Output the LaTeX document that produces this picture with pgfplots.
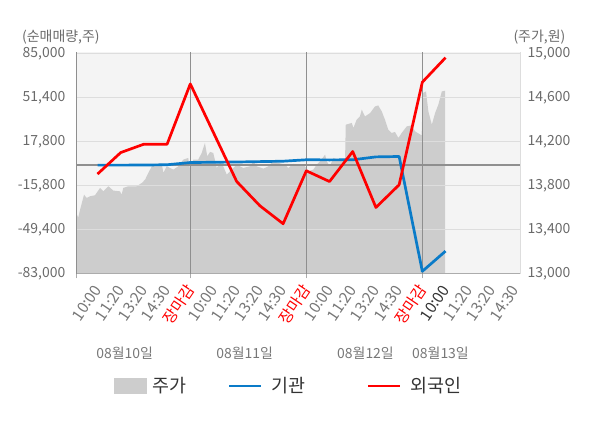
\documentclass[border=0pt]{standalone}
\usepackage{pgfplots}
\pgfplotsset{compat=1.18}
\usepackage{fontspec}
\setmainfont{Noto Sans CJK KR}
\definecolor{bgc}{HTML}{F4F4F4}
\definecolor{areac}{HTML}{CDCDCD}
\definecolor{gridc}{HTML}{DDDDDD}
\definecolor{darkgrid}{HTML}{8F8F8F}
\definecolor{labgray}{HTML}{6A6A6A}
\definecolor{xlab}{HTML}{777777}
\definecolor{xdark}{HTML}{333333}
\definecolor{legtext}{HTML}{333333}
\definecolor{bluec}{HTML}{0A7BC8}
\definecolor{redc}{HTML}{FF0000}
\newcommand{\g}[1]{\textcolor{xlab}{#1}}
\newcommand{\rr}[1]{\textcolor{redc}{#1}}
\newcommand{\dd}[1]{\textcolor{xdark}{#1}}
\newcommand{\fs}[1]{\fontsize{#1}{#1}\selectfont}

\pgfplotstableread{
s p
-0.927 13553
-0.83 13511
-0.75 13583
-0.58 13719
-0.47 13689
-0.32 13704
-0.11 13713
0.11 13780
0.25 13749
0.47 13795
0.68 13756
0.97 13749
1.04 13719
1.11 13780
1.33 13795
1.69 13795
1.91 13825
2.05 13855
2.19 13916
2.34 13976
2.48 13998
2.77 13998
2.84 13916
2.98 13976
3.27 13946
3.48 13976
3.70 14037
3.91 14052
3.99 13946
4.13 14037
4.34 14037
4.49 14097
4.63 14188
4.73 14067
4.85 14107
4.99 14097
5.14 13961
5.28 14007
5.42 13976
5.57 13901
5.78 13946
6.00 13991
6.28 13961
6.57 13976
6.72 14021
6.86 13976
7.15 13955
7.36 13976
7.58 14021
7.79 14007
8.08 13991
8.22 13961
8.44 13998
8.73 13991
8.94 13976
9.09 13931
9.30 13946
9.45 13991
9.59 14021
9.81 14082
9.88 14021
10.02 13976
10.16 14052
10.38 14037
10.67 14037
10.70 14354
10.96 14370
11.03 14324
11.17 14400
11.31 14429
11.39 14490
11.53 14429
11.75 14460
11.96 14520
12.10 14529
12.25 14475
12.39 14400
12.53 14309
12.68 14279
12.82 14288
12.97 14234
13.11 14279
13.33 14339
13.54 14348
13.69 14293
13.97 14257
14.02 14642
14.16 14656
14.26 14475
14.41 14354
14.55 14460
14.69 14536
14.84 14656
14.98 14663
}\pricetable

\pgfplotstableread{
s v
0 -100
1 -100
2 0
3 200
4 1900
6 2300
7 2600
8 2900
9 4000
10 3900
11 4000
12 6200
13 6500
14 -81100
15 -65700
}\insttable

\pgfplotstableread{
s v
0 -6900
1 9500
2 15900
3 15900
4 61900
6 -12600
7 -31100
8 -44800
9 -4400
10 -12600
11 10300
12 -32400
13 -15100
14 63200
15 81900
}\foreigntable

\begin{document}
\begin{tikzpicture}
\path[use as bounding box] (0,0) rectangle (600bp,-428bp);

% price axis (right)
\begin{axis}[
  at={(76bp,-273.8bp)}, anchor=south west,
  scale only axis, width=444bp, height=222.1bp,
  xmin=-0.927, xmax=18.21, ymin=13000, ymax=15017,
  axis x line=none, axis y line*=right,
  y axis line style={draw=gridc, line width=1bp, -},
  axis background/.style={fill=bgc},
  ytick={13000,13400,13800,14200,14600,15000},
  scaled y ticks=false,
  major tick length=0pt,
  yticklabel style={font=\fs{14}, text=labgray, inner sep=0pt},
  yticklabel shift=7.5bp,
  /pgf/number format/1000 sep={,},
  /pgf/number format/assume math mode=true,
]
\addplot[fill=areac, draw=none] table[x=s, y=p] {\pricetable} \closedcycle;
\end{axis}

% volume axis (left)
\begin{axis}[
  at={(76bp,-273.8bp)}, anchor=south west,
  scale only axis, width=444bp, height=222.1bp,
  xmin=-0.927, xmax=18.21, ymin=-83000, ymax=86450,
  axis x line*=bottom, axis y line*=left,
  x axis line style={draw=gray!65, line width=1.2bp, -},
  y axis line style={draw=gray!75, line width=1bp, -},
  ytick={-83000,-49400,-15800,17800,51400,85000},
  scaled y ticks=false,
  ymajorgrids, major grid style={draw=gridc, line width=1bp},
  major tick length=0pt,
  yticklabel style={font=\fs{14}, text=labgray, inner sep=0pt},
  yticklabel shift=10.5bp,
  extra y ticks={0}, extra y tick labels={},
  extra y tick style={grid=major, major grid style={draw=darkgrid, line width=1.2bp}},
  xtick={0,...,18},
  xticklabels={\g{10:00},\g{11:20},\g{13:20},\g{14:30},\rr{장마감},
    \g{10:00},\g{11:20},\g{13:20},\g{14:30},\rr{장마감},
    \g{10:00},\g{11:20},\g{13:20},\g{14:30},\rr{장마감},
    \dd{10:00},\g{11:20},\g{13:20},\g{14:30}},
  xticklabel style={font=\fs{15.5}, inner sep=0pt, rotate=56, anchor=east},
  xticklabel shift=13bp,
  extra x ticks={-0.927,4,9,14}, extra x tick labels={},
  extra x tick style={grid=major, major grid style={draw=darkgrid, line width=1bp},
     major tick length=4.5bp, tick align=outside, tick style={draw=gray!65, line width=1bp}},
  /pgf/number format/1000 sep={,},
  /pgf/number format/assume math mode=true,
  legend columns=3,
  legend image code/.code={\draw[#1] (0bp,0bp) -- (32bp,0bp);},
  legend style={at={(0.0856,-0.5052)}, anchor=west, draw=none, fill=none,
    inner sep=0pt, font=\fs{18.5}, text=legtext, nodes={inner sep=0pt},
    /tikz/column 1/.append style={column sep=6.3bp},
    /tikz/column 2/.append style={column sep=41bp},
    /tikz/column 3/.append style={column sep=9.3bp},
    /tikz/column 4/.append style={column sep=61bp},
    /tikz/column 5/.append style={column sep=9.3bp}},
]
\addlegendimage{legend image code/.code={\fill[areac] (0bp,-7.5bp) rectangle (32bp,7.5bp);}}
\addlegendentry{주가}
\addplot[bluec, line width=2.7bp, line join=round] table[x=s, y=v] {\insttable};
\addlegendentry{기관}
\addplot[redc, line width=2.7bp, line join=round] table[x=s, y=v] {\foreigntable};
\addlegendentry{외국인}
\end{axis}

\node[anchor=west, inner sep=0pt, font=\fs{14}, text=labgray] at (22bp,-36.8bp) {(순매매량,주)};
\node[anchor=east, inner sep=0pt, font=\fs{14}, text=labgray] at (565.5bp,-37.3bp) {(주가,원)};
\node[inner sep=0pt, font=\fs{14}, text=xlab] at (124.7bp,-353.3bp) {08월10일};
\node[inner sep=0pt, font=\fs{14}, text=xlab] at (244.7bp,-353.3bp) {08월11일};
\node[inner sep=0pt, font=\fs{14}, text=xlab] at (365.5bp,-353.3bp) {08월12일};
\node[inner sep=0pt, font=\fs{14}, text=xlab] at (440.5bp,-353.3bp) {08월13일};
\end{tikzpicture}
\end{document}
